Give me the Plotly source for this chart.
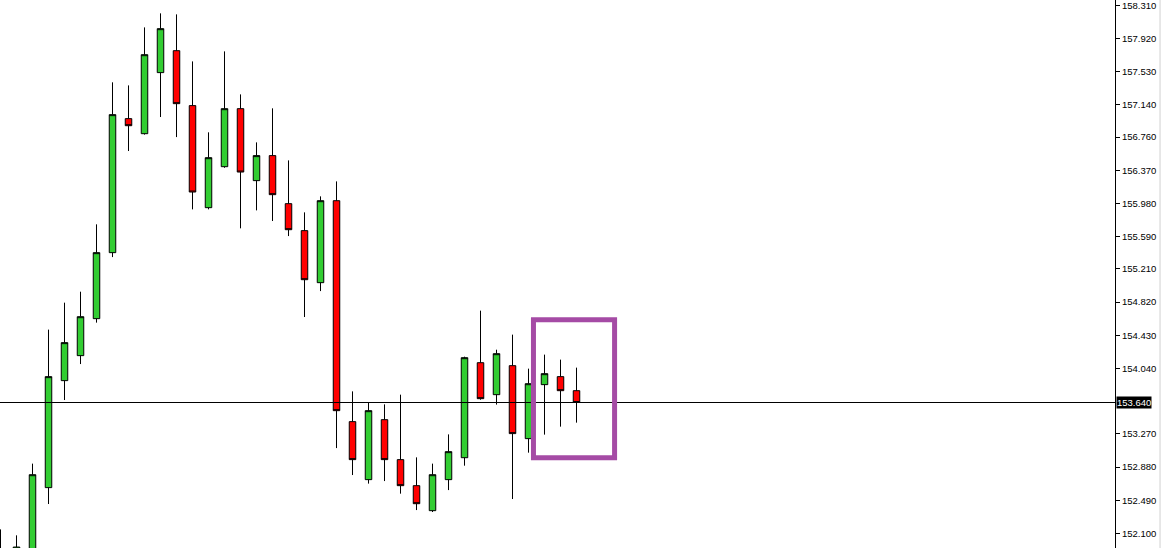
import plotly.graph_objects as go

bar_index = list(range(37))
open_ = [151.70, 151.80, 151.85, 152.639, 153.897, 154.191, 154.626, 155.402, 156.978, 156.801,
         157.519, 157.777, 157.131, 155.931, 156.413, 157.095, 156.249, 156.543, 155.978, 155.661,
         155.049, 156.013, 153.415, 152.733, 153.438, 152.968, 152.662, 152.368, 152.733, 152.991,
         154.108, 153.732, 154.073, 153.215, 153.850, 153.944, 153.779]
high = [152.148, 152.078, 152.921, 154.497, 154.814, 154.943, 155.735, 157.405, 157.369, 158.051,
        158.216, 158.204, 157.651, 156.817, 157.769, 157.263, 156.699, 157.099, 156.487, 155.876,
        156.064, 156.240, 153.771, 153.638, 153.618, 153.732, 152.995, 152.921, 153.265, 154.179,
        154.720, 154.261, 154.438, 154.038, 154.203, 154.144, 154.050]
low = [151.60, 151.75, 151.80, 152.446, 153.669, 154.092, 154.579, 155.350, 156.597, 156.790,
       156.997, 156.761, 155.911, 155.911, 156.400, 155.688, 155.899, 155.774, 155.597, 154.645,
       154.950, 153.104, 152.787, 152.686, 152.716, 152.568, 152.375, 152.352, 152.610, 152.897,
       153.673, 153.615, 152.505, 153.050, 153.262, 153.356, 153.403]
close = [151.85, 151.940, 152.791, 153.944, 154.344, 154.649, 155.402, 157.025, 156.895, 157.730,
         158.036, 157.154, 156.115, 156.519, 157.095, 156.350, 156.543, 156.084, 155.672, 155.084,
         156.013, 153.544, 152.968, 153.544, 152.968, 152.662, 152.450, 152.791, 153.062, 154.167,
         153.685, 154.214, 153.274, 153.861, 153.979, 153.779, 153.640]

tick_values = [158.310, 157.920, 157.530, 157.140, 156.760, 156.370, 155.980, 155.590, 155.210,
               154.820, 154.430, 154.040, 153.270, 152.880, 152.490, 152.100]
current_price = 153.640

fig = go.Figure()
fig.add_trace(go.Candlestick(
    x=bar_index, open=open_, high=high, low=low, close=close,
    increasing=dict(line=dict(color="black", width=1), fillcolor="#32CD32"),
    decreasing=dict(line=dict(color="black", width=1), fillcolor="#FF0000"),
    whiskerwidth=0, showlegend=False, hoverinfo="skip",
))

fig.add_shape(type="line", xref="paper", x0=0, x1=1, yref="y", y0=current_price, y1=current_price,
              line=dict(color="black", width=1))
fig.add_shape(type="rect", xref="x", yref="y", x0=33.31, x1=38.38, y0=152.989, y1=154.612,
              line=dict(color="#A54BA5", width=5), fillcolor="rgba(0,0,0,0)")
fig.add_shape(type="line", xref="paper", x0=1.0404, x1=1.0404, yref="paper", y0=0, y1=1,
              line=dict(color="#d0d0d0", width=1))

fig.add_annotation(xref="paper", x=1.0012, yref="y", y=current_price, xanchor="left", yanchor="middle",
                   text="153.640", showarrow=False, bgcolor="black",
                   font=dict(color="white", size=9.5, family="Liberation Sans"),
                   borderpad=0)

fig.update_layout(
    width=1163, height=548,
    margin=dict(l=0, r=48, t=0, b=0),
    paper_bgcolor="white", plot_bgcolor="white",
    boxgap=0.42,
    xaxis=dict(range=[-0.5 / 16, 1114.5 / 16], visible=False, rangeslider=dict(visible=False),
               fixedrange=True),
    yaxis=dict(range=[151.929, 158.373], side="right", showgrid=False, zeroline=False,
               showline=True, linecolor="black", linewidth=1,
               ticks="outside", ticklen=4, tickcolor="black", tickwidth=1,
               tickvals=tick_values, tickformat=".3f", ticklabeloverflow="allow",
               tickfont=dict(family="Liberation Sans", size=9.5, color="black")),
    font=dict(family="Liberation Sans"),
)

fig.write_html("out.html", config={"displayModeBar": False},
               post_script="document.body.style.margin='0';document.body.style.padding='0';")
